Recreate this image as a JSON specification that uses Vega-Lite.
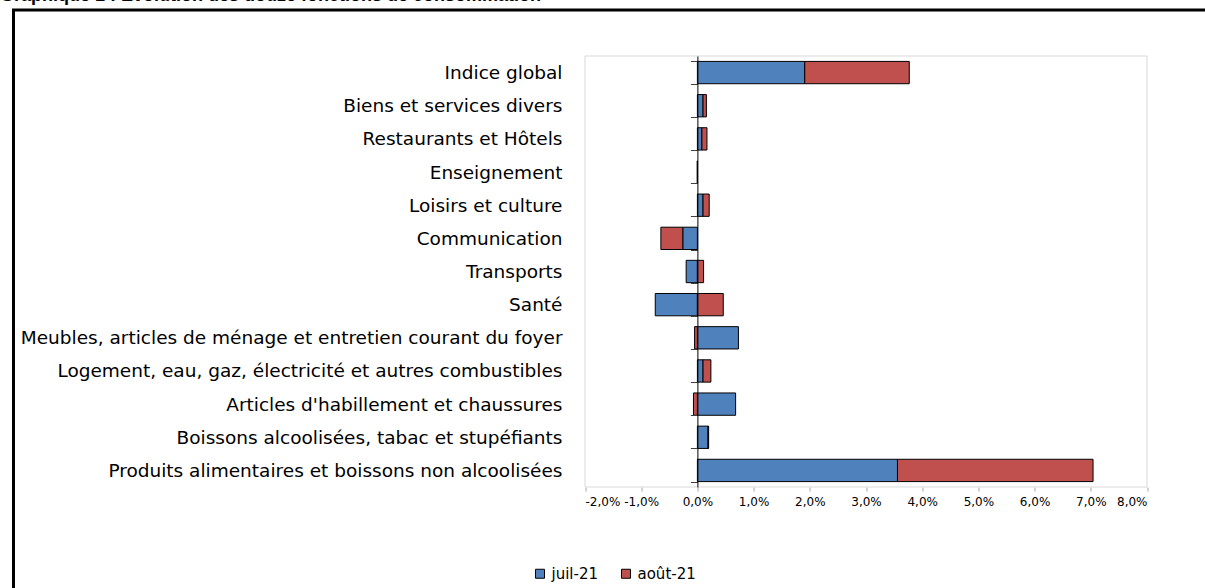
{
  "$schema": "https://vega.github.io/schema/vega-lite/v6.json",
  "autosize": "none",
  "padding": {"left": 13.5, "top": 10, "right": 0, "bottom": 0},
  "width": 1206,
  "height": 580,
  "title": {
    "text": "Graphique 1 : Evolution des douze fonctions de consommation",
    "anchor": "start",
    "frame": "group",
    "baseline": "alphabetic",
    "offset": -18,
    "dx": -13.5,
    "font": "Liberation Sans",
    "fontSize": 18,
    "fontWeight": "bold",
    "color": "#000000"
  },
  "config": {
    "view": {"stroke": "#000000", "strokeWidth": 3},
    "font": "DejaVu Sans"
  },
  "datasets": {
    "cadre": [{"a": 1}],
    "indices": [
      {"categorie": "Indice global", "mois": "juil-21", "valeur": 1.91},
      {"categorie": "Indice global", "mois": "août-21", "valeur": 1.86},
      {"categorie": "Biens et services divers", "mois": "juil-21", "valeur": 0.10},
      {"categorie": "Biens et services divers", "mois": "août-21", "valeur": 0.06},
      {"categorie": "Restaurants et Hôtels", "mois": "juil-21", "valeur": 0.08},
      {"categorie": "Restaurants et Hôtels", "mois": "août-21", "valeur": 0.09},
      {"categorie": "Enseignement", "mois": "juil-21", "valeur": 0},
      {"categorie": "Enseignement", "mois": "août-21", "valeur": 0},
      {"categorie": "Loisirs et culture", "mois": "juil-21", "valeur": 0.10},
      {"categorie": "Loisirs et culture", "mois": "août-21", "valeur": 0.11},
      {"categorie": "Communication", "mois": "juil-21", "valeur": -0.26},
      {"categorie": "Communication", "mois": "août-21", "valeur": -0.39},
      {"categorie": "Transports", "mois": "juil-21", "valeur": -0.20},
      {"categorie": "Transports", "mois": "août-21", "valeur": 0.11},
      {"categorie": "Santé", "mois": "juil-21", "valeur": -0.75},
      {"categorie": "Santé", "mois": "août-21", "valeur": 0.46},
      {"categorie": "Meubles, articles de ménage et entretien courant du foyer", "mois": "juil-21", "valeur": 0.73},
      {"categorie": "Meubles, articles de ménage et entretien courant du foyer", "mois": "août-21", "valeur": -0.05},
      {"categorie": "Logement, eau, gaz, électricité et autres combustibles", "mois": "juil-21", "valeur": 0.10},
      {"categorie": "Logement, eau, gaz, électricité et autres combustibles", "mois": "août-21", "valeur": 0.14},
      {"categorie": "Articles d'habillement et chaussures", "mois": "juil-21", "valeur": 0.68},
      {"categorie": "Articles d'habillement et chaussures", "mois": "août-21", "valeur": -0.07},
      {"categorie": "Boissons alcoolisées, tabac et stupéfiants", "mois": "juil-21", "valeur": 0.19},
      {"categorie": "Boissons alcoolisées, tabac et stupéfiants", "mois": "août-21", "valeur": 0.01},
      {"categorie": "Produits alimentaires et boissons non alcoolisées", "mois": "juil-21", "valeur": 3.56},
      {"categorie": "Produits alimentaires et boissons non alcoolisées", "mois": "août-21", "valeur": 3.48}
    ]
  },
  "layer": [
    {
      "data": {"name": "cadre"},
      "mark": {"type": "rect", "fill": "transparent", "stroke": "#d9d9d9", "strokeWidth": 1},
      "encoding": {
        "x": {"datum": -2, "type": "quantitative"},
        "x2": {"datum": 8},
        "y": {"datum": 0, "type": "quantitative", "scale": {"domain": [0, 1], "range": [46, 477]}, "axis": null},
        "y2": {"datum": 1}
      }
    },
    {
      "data": {"name": "indices"},
      "mark": {"type": "bar", "stroke": "#000000", "strokeWidth": 1},
      "encoding": {
        "y": {
          "field": "categorie",
          "type": "nominal",
          "sort": null,
          "scale": {"range": [46, 477], "paddingInner": 0.327, "paddingOuter": 0.1635},
          "axis": {
            "title": null,
            "orient": "left",
            "offset": -683.9,
            "zindex": 1,
            "domainColor": "#000000",
            "domainWidth": 1,
            "tickBand": "extent",
            "tickColor": "#404040",
            "tickSize": 7,
            "labelPadding": 128.4,
            "labelFont": "DejaVu Sans",
            "labelFontSize": 18.5,
            "labelColor": "#000000",
            "labelLimit": 0,
            "grid": false
          }
        },
        "x": {
          "field": "valeur",
          "type": "quantitative",
          "stack": "zero",
          "scale": {"domain": [-2, 8], "range": [571.5, 1133.5], "nice": false, "zero": false},
          "axis": {
            "title": null,
            "orient": "bottom",
            "offset": -103,
            "values": [-2, -1, 0, 1, 2, 3, 4, 5, 6, 7, 8],
            "labelExpr": "replace(replace(format(datum.value, '.1f'), '.', ','), '\u2212', '-') + '%'",
            "labelOverlap": false,
            "domain": false,
            "grid": false,
            "tickColor": "#a6a6a6",
            "tickSize": 4,
            "labelPadding": 5,
            "labelFont": "DejaVu Sans",
            "labelFontSize": 12,
            "labelColor": "#000000"
          }
        },
        "color": {
          "field": "mois",
          "type": "nominal",
          "scale": {"domain": ["juil-21", "août-21"], "range": ["#4F81BD", "#C0504D"]},
          "legend": {
            "title": null,
            "orient": "none",
            "legendX": 519,
            "legendY": 556,
            "direction": "horizontal",
            "padding": 0,
            "symbolType": "square",
            "symbolSize": 81,
            "symbolStrokeColor": "#000000",
            "symbolStrokeWidth": 1,
            "symbolOpacity": 1,
            "labelFont": "DejaVu Sans",
            "labelFontSize": 15,
            "labelColor": "#000000",
            "columnPadding": 20
          }
        },
        "order": {"field": "mois", "sort": "descending"}
      }
    }
  ],
  "resolve": {"scale": {"y": "independent"}}
}
